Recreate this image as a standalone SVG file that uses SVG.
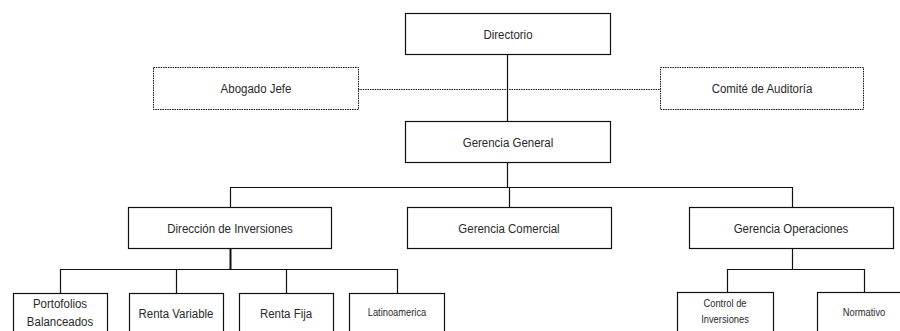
<svg xmlns="http://www.w3.org/2000/svg" width="900" height="331" viewBox="0 0 900 331">
<style>
.box{fill:#fff;stroke:#111;stroke-width:1.2}
.dot{fill:#fff;stroke:#000;stroke-width:1;stroke-dasharray:1.4,1}
.ln{fill:none;stroke:#111;stroke-width:1.2}
.dl{fill:none;stroke:#000;stroke-width:1;stroke-dasharray:1.4,1}
text{font-family:"Liberation Sans",Arial,sans-serif;font-size:13.5px;fill:#2a2a2a;text-anchor:middle}
.s{font-size:11px}
</style>
<rect width="900" height="331" fill="#fff"/>
<g id="connectors">
<path class="ln" d="M507.5,54 V121"/>
<path class="dl" d="M358,89.5 H660"/>
<path class="ln" d="M507.5,162 V187.5 M230.5,207 V187.5 H792.5 V207 M509.5,187.5 V207"/>
<path class="ln" d="M230.5,248 V269.5" style="stroke-width:2"/>
<path class="ln" d="M60.5,293 V269.5 H397.5 V293 M176.5,269.5 V293 M286.5,269.5 V293"/>
<path class="ln" d="M792.5,248 V269.5 M727.5,292 V269.5 H864.5 V292"/>
</g>
<g id="directorio"><rect class="box" x="405.5" y="13.5" width="205" height="41"/><text transform="translate(508,38.5) scale(0.85,1)">Directorio</text></g>
<g id="abogado"><rect class="dot" x="153.5" y="67.5" width="205" height="42"/><text transform="translate(256,93) scale(0.85,1)">Abogado Jefe</text></g>
<g id="comite"><rect class="dot" x="660.5" y="67.5" width="203" height="42"/><text transform="translate(762,93) scale(0.85,1)">Comité de Auditoría</text></g>
<g id="gerencia-general"><rect class="box" x="405.5" y="121.5" width="205" height="41"/><text transform="translate(508,146.5) scale(0.85,1)">Gerencia General</text></g>
<g id="direccion-inversiones"><rect class="box" x="128.5" y="207.5" width="203" height="41"/><text transform="translate(230,232.5) scale(0.85,1)">Dirección de Inversiones</text></g>
<g id="gerencia-comercial"><rect class="box" x="407.5" y="207.5" width="204" height="41"/><text transform="translate(509,232.5) scale(0.85,1)">Gerencia Comercial</text></g>
<g id="gerencia-operaciones"><rect class="box" x="689.5" y="207.5" width="204" height="41"/><text transform="translate(791,232.5) scale(0.85,1)">Gerencia Operaciones</text></g>
<g id="portofolios"><rect class="box" x="13.5" y="293.5" width="94" height="50"/><text transform="translate(60,308) scale(0.85,1)">Portofolios</text><text transform="translate(60,326) scale(0.85,1)">Balanceados</text></g>
<g id="renta-variable"><rect class="box" x="129.5" y="293.5" width="94" height="50"/><text transform="translate(176,318) scale(0.85,1)">Renta Variable</text></g>
<g id="renta-fija"><rect class="box" x="239.5" y="293.5" width="94" height="50"/><text transform="translate(286,318) scale(0.85,1)">Renta Fija</text></g>
<g id="latinoamerica"><rect class="box" x="349.5" y="293.5" width="95" height="50"/><text class="s" transform="translate(397,316) scale(0.85,1)">Latinoamerica</text></g>
<g id="control-inversiones"><rect class="box" x="677.5" y="292.5" width="96" height="50"/><text class="s" transform="translate(725,307) scale(0.85,1)">Control de</text><text class="s" transform="translate(725,323) scale(0.85,1)">Inversiones</text></g>
<g id="normativo"><rect class="box" x="817.5" y="292.5" width="95" height="50"/><text class="s" transform="translate(864,316) scale(0.85,1)">Normativo</text></g>
</svg>
